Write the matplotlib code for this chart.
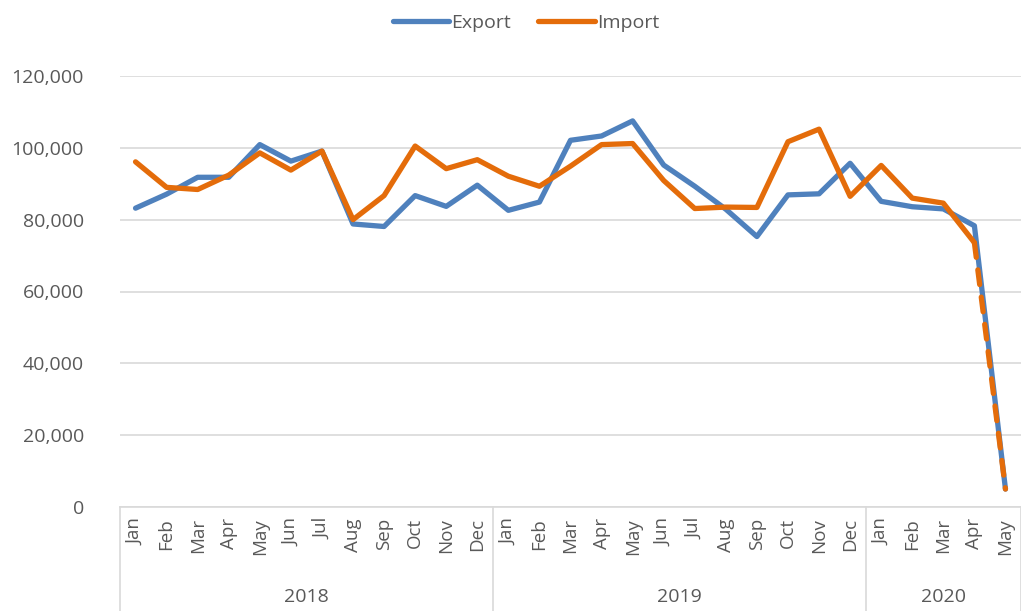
import numpy as np
import matplotlib.pyplot as plt
import matplotlib.transforms as mtransforms
from matplotlib.ticker import FuncFormatter

plt.rcParams['font.family'] = ['Open Sans', 'DejaVu Sans']

months = ['Jan', 'Feb', 'Mar', 'Apr', 'May', 'Jun', 'Jul', 'Aug', 'Sep', 'Oct', 'Nov', 'Dec',
          'Jan', 'Feb', 'Mar', 'Apr', 'May', 'Jun', 'Jul', 'Aug', 'Sep', 'Oct', 'Nov', 'Dec',
          'Jan', 'Feb', 'Mar', 'Apr', 'May']
years = ['2018', '2019', '2020']
year_len = [12, 12, 5]

export = [83200, 87100, 91800, 91800, 100900, 96300, 99100, 78800, 78100, 86700, 83700, 89600,
          82600, 84900, 102100, 103300, 107500, 95200, 89300, 82900, 75300, 86900, 87200, 95700,
          85100, 83600, 83000, 78300, 5000]
imports = [96100, 89000, 88400, 92400, 98600, 93800, 99100, 80000, 86700, 100500, 94200, 96700,
           92100, 89300, 94900, 100900, 101200, 90900, 83100, 83500, 83400, 101700, 105200, 86500,
           95100, 86000, 84600, 73600, 5000]

blue = '#4F81BD'
orange = '#E46C0A'
grey_txt = '#595959'
grid_c = '#D9D9D9'

W, H = 1021, 611
fig = plt.figure(figsize=(W / 100, H / 100), dpi=100)
ax = fig.add_axes([120 / W, (H - 507) / H, 901 / W, 431 / H])

x = np.arange(len(months))
lw = 3.8
ax.plot(x, export, color=blue, lw=lw, solid_joinstyle='round', solid_capstyle='round',
        label='Export', zorder=3)
ax.plot(x[:-1], imports[:-1], color=orange, lw=lw, solid_joinstyle='round',
        solid_capstyle='round', label='Import', zorder=4)
ax.plot(x[-2:], imports[-2:], color=orange, lw=lw, dashes=(2.8, 2.4),
        dash_capstyle='round', zorder=4)

ax.set_xlim(-0.5, len(months) - 0.5)
ax.set_ylim(0, 120000)
ax.set_yticks(range(0, 120001, 20000))
ax.yaxis.set_major_formatter(FuncFormatter(lambda v, p: f'{int(v):,}'))
ax.grid(axis='y', color=grid_c, lw=1.2)
ax.set_axisbelow(True)
for s in ['left', 'right', 'top']:
    ax.spines[s].set_visible(False)
ax.spines['bottom'].set_color(grid_c)
ax.spines['bottom'].set_linewidth(1.2)

ax.set_xticks(x)
ax.set_xticklabels(months, rotation=90, fontsize=13.5, color=grey_txt)
ax.tick_params(axis='x', length=0, pad=8)
ax.tick_params(axis='y', length=0, pad=26, labelsize=14, labelcolor=grey_txt)

# multi-level category separators and year labels
trans = mtransforms.blended_transform_factory(ax.transData, ax.transAxes)
depth = -(H - 507) / 431
bounds = [-0.5]
for n in year_len:
    bounds.append(bounds[-1] + n)
for b in bounds:
    ax.plot([b, b], [0, depth], transform=trans, color=grid_c, lw=1.2, clip_on=False)
for i, yr in enumerate(years):
    ax.text((bounds[i] + bounds[i + 1]) / 2, -(597 - 507) / 431, yr, transform=trans,
            ha='center', va='center', fontsize=14, color=grey_txt)

fig.legend(loc='center', bbox_to_anchor=(526 / W, 1 - 23 / H), ncol=2, frameon=False,
           fontsize=14, labelcolor=grey_txt, handlelength=2.9, handletextpad=0.1,
           columnspacing=1.4)

fig.savefig('out.png', dpi=100)
